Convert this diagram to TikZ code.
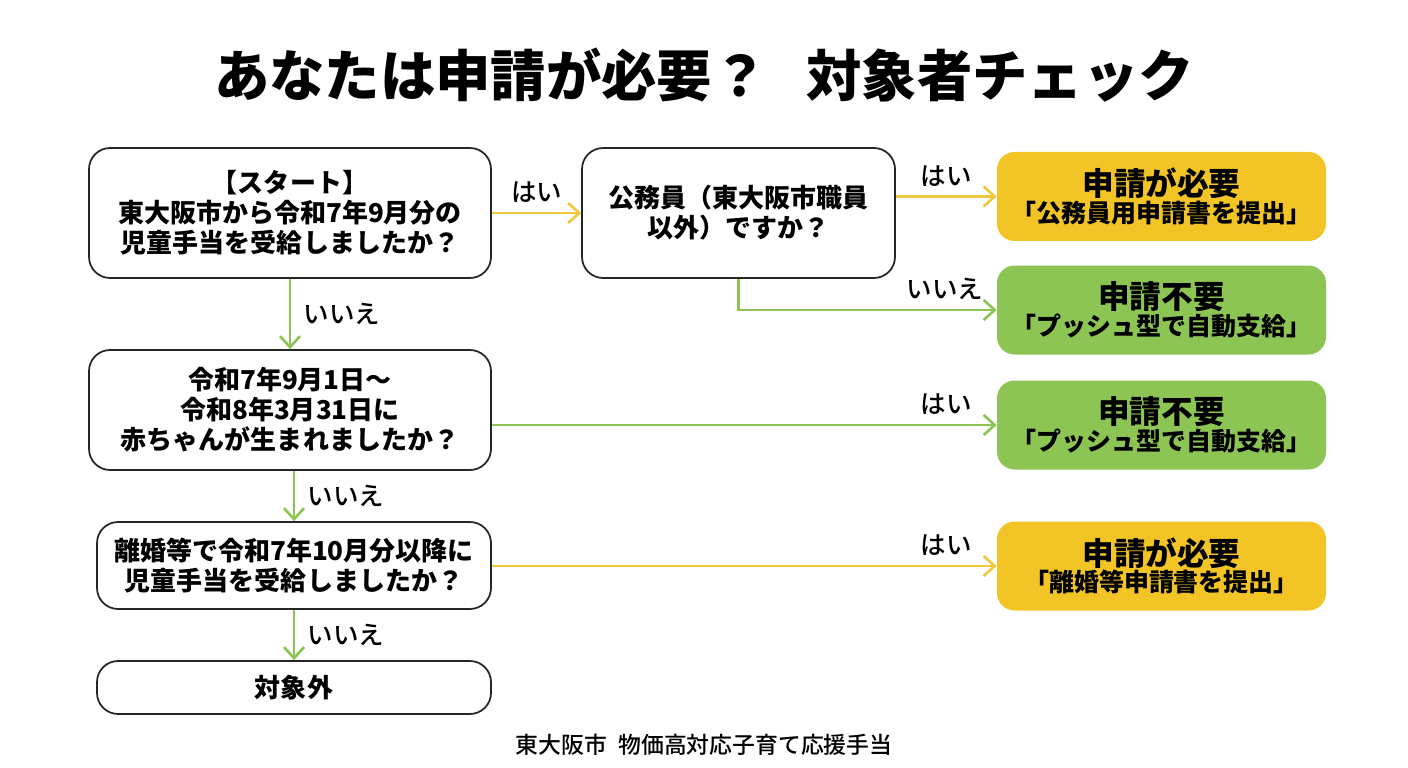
\documentclass[tikz,border=0pt]{standalone}
\usepackage{fontspec}
\setmainfont{Noto Sans CJK JP}
\newfontfamily\midfont{Noto Sans CJK JP Medium}
\usetikzlibrary{arrows.meta,calc}
\definecolor{NeedClr}{HTML}{F3C426}
\definecolor{FreeClr}{HTML}{8DC554}
\definecolor{YesLine}{HTML}{EFC83C}
\definecolor{NoLine}{HTML}{8DC554}

\begin{document}
\begin{tikzpicture}[
  qbox/.style={draw=black!85,line width=1pt,rounded corners=12pt,fill=white,
    align=center,inner sep=0pt,font=\bfseries\fontsize{14.8}{17}\selectfont},
  rbox/.style={rounded corners=10pt,align=center,inner sep=0pt,
    minimum width=6.58cm,minimum height=1.78cm},
  need/.style={rbox,fill=NeedClr},
  free/.style={rbox,fill=FreeClr},
  lbl/.style={font=\midfont\fontsize{14.5}{16}\selectfont,inner sep=1pt},
  yesarr/.style={YesLine,line width=1.5pt,-{Straight Barb[length=2.2mm,width=4mm]}},
  noarr/.style={NoLine,line width=1.5pt,-{Straight Barb[length=2.2mm,width=4mm]}}]
\useasboundingbox (0,0) rectangle (28.16,-15.36);

\node[font=\bfseries\fontsize{31.5}{36}\selectfont] (title) at (14.08,-1.5)
  {あなたは申請が必要？\hspace{0.7em}対象者チェック};

% questions
\node[qbox,minimum width=8.04cm,minimum height=2.6cm] (start) at (5.8,-4.26)
  {【スタート】\\東大阪市から令和7年9月分の\\児童手当を受給しましたか？};
\node[qbox,minimum width=6.26cm,minimum height=2.6cm] (koumu) at (14.77,-4.26)
  {公務員（東大阪市職員\\以外）ですか？};
\node[qbox,minimum width=8.04cm,minimum height=2.4cm] (birth) at (5.8,-8.2)
  {令和7年9月1日〜\\令和8年3月31日に\\赤ちゃんが生まれましたか？};
\node[qbox,minimum width=7.88cm,minimum height=1.74cm] (rikon) at (5.88,-11.31)
  {離婚等で令和7年10月分以降に\\児童手当を受給しましたか？};
\node[qbox,minimum width=7.88cm,minimum height=1.06cm] (out) at (5.88,-13.75)
  {対象外};

% results
\node[need] (r1) at (23.23,-3.93)
  {{\bfseries\fontsize{18}{22}\selectfont 申請が必要}\\{\bfseries\fontsize{14.2}{19}\selectfont 「公務員用申請書を提出」}};
\node[free] (r2) at (23.23,-6.2)
  {{\bfseries\fontsize{18}{22}\selectfont 申請不要}\\{\bfseries\fontsize{14.2}{19}\selectfont 「プッシュ型で自動支給」}};
\node[free] (r3) at (23.23,-8.5)
  {{\bfseries\fontsize{18}{22}\selectfont 申請不要}\\{\bfseries\fontsize{14.2}{19}\selectfont 「プッシュ型で自動支給」}};
\node[need] (r4) at (23.23,-11.32)
  {{\bfseries\fontsize{18}{22}\selectfont 申請が必要}\\{\bfseries\fontsize{14.2}{19}\selectfont 「離婚等申請書を提出」}};

% connectors
\draw[yesarr] (start) -- (koumu) node[lbl,black,above=4pt,pos=0.5] {はい};
\draw[yesarr] (koumu.east |- r1.west) -- (r1.west) node[lbl,black,above=4pt,pos=0.5] {はい};
\draw[noarr] (koumu.south) |- (r2.west) node[lbl,black,above=4pt,pos=0.9] {いいえ};
\draw[noarr] (start.south) -- (birth.north) node[lbl,black,right=6pt,pos=0.5] {いいえ};
\draw[noarr] (birth.east |- r3.west) -- (r3.west) node[lbl,black,above=4pt,pos=0.9] {はい};
\draw[noarr] (birth.south -| rikon.north) -- (rikon.north) node[lbl,black,right=6pt,pos=0.5] {いいえ};
\draw[yesarr] (rikon.east |- r4.west) -- (r4.west) node[lbl,black,above=4pt,pos=0.9] {はい};
\draw[noarr] (rikon.south) -- (out.north) node[lbl,black,right=6pt,pos=0.5] {いいえ};

\node[font=\midfont\fontsize{13}{15}\selectfont] (foot) at (14.08,-14.9)
  {東大阪市\hspace{0.5em}物価高対応子育て応援手当};
\end{tikzpicture}
\end{document}
